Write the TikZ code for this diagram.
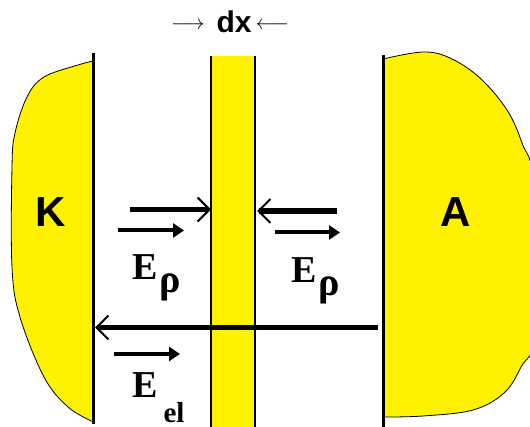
\documentclass[tikz,border=0pt]{standalone}
\usepackage{fontspec}
\setmainfont{Liberation Serif}
\newfontfamily\arialfont{Liberation Sans}
\usetikzlibrary{arrows.meta}
\tikzset{
  plate/.style={line width=3pt},
  stripline/.style={line width=1.5pt},
  blob/.style={fill=yellow, draw=black, line width=0.8pt},
  openarrow/.style={line width=5.5pt, -{Straight Barb[length=12pt,width=24pt,line width=2pt]}},
  filledarrow/.style={line width=4pt, -{Triangle[length=11pt,width=14pt]}},
  bigsans/.style={inner sep=0pt, anchor=base, font=\arialfont\bfseries\fontsize{42}{42}\selectfont},
  elabel/.style={inner sep=0pt, anchor=base west, font=\bfseries\fontsize{38}{38}\selectfont},
}
\begin{document}
\begin{tikzpicture}[x=1pt,y=-1pt]
\useasboundingbox (0,0) rectangle (530,427);
\clip (0,0) rectangle (530,427);
% cathode blob
\path[blob] (93.5,61) -- plot[smooth, tension=0.6] coordinates {(93.5,61) (78,65) (44,77) (27,97) (15,133) (12,167) (12,267) (20,317) (44,377) (68,407) (93.5,422)} -- cycle;
% anode blob
\path[blob] (383,59) -- plot[smooth, tension=0.6] coordinates {(383,59) (423,52) (450,58) (480,78) (507,110) (522,143) (534,185) (536,330) (521,367) (504,393) (473,410) (423,416) (383,417)} -- cycle;
% strip
\fill[yellow] (211,56) rectangle (255,430);
\coordinate (sl1) at (211,56); \coordinate (sl2) at (211,430);
\coordinate (sr1) at (255,56); \coordinate (sr2) at (255,430);
\draw[stripline] (sl1) -- (sl2);
\draw[stripline] (sr1) -- (sr2);
% plates
\coordinate (k1) at (93.5,53); \coordinate (k2) at (93.5,424);
\coordinate (a1) at (383,55); \coordinate (a2) at (383,430);
\draw[plate] (k1) -- (k2);
\draw[plate] (a1) -- (a2);
% arrows
\coordinate (p1s) at (130,209.5); \coordinate (p1e) at (211,209.5);
\coordinate (p2s) at (337,211); \coordinate (p2e) at (257,211);
\coordinate (p3s) at (378,327.5); \coordinate (p3e) at (95,327.5);
\coordinate (v1s) at (118,230.5); \coordinate (v1e) at (184,230.5);
\coordinate (v2s) at (275,232.5); \coordinate (v2e) at (340,232.5);
\coordinate (v3s) at (114,354); \coordinate (v3e) at (180,354);
\draw[openarrow] (p1s) -- (p1e);
\draw[openarrow] (p2s) -- (p2e);
\draw[openarrow] (p3s) -- (p3e);
\draw[filledarrow] (v1s) -- (v1e);
\draw[filledarrow] (v2s) -- (v2e);
\draw[filledarrow] (v3s) -- (v3e);
% labels
\node[bigsans] (K) at (51,227) {K};
\node[bigsans] (A) at (455.5,227) {A};
\node[elabel] (Erho1) at (132,280) {E\kern2pt\raisebox{-13pt}{\fontsize{40}{40}\selectfont ρ}};
\node[elabel] (Erho2) at (291,283) {E\kern2pt\raisebox{-13pt}{\fontsize{40}{40}\selectfont ρ}};
\node[elabel] (Eel) at (132,397) {E\kern6pt\raisebox{-25pt}{\fontsize{29}{29}\selectfont el}};
\node[inner sep=0pt, anchor=base west] (dx) at (171,33) {\fontsize{20}{20}\selectfont\raisebox{3pt}{$\longrightarrow$}\hspace{12pt}{\arialfont\bfseries\fontsize{30}{30}\selectfont dx}\hspace{4pt}\raisebox{3pt}{$\longleftarrow$}};
\end{tikzpicture}
\end{document}
